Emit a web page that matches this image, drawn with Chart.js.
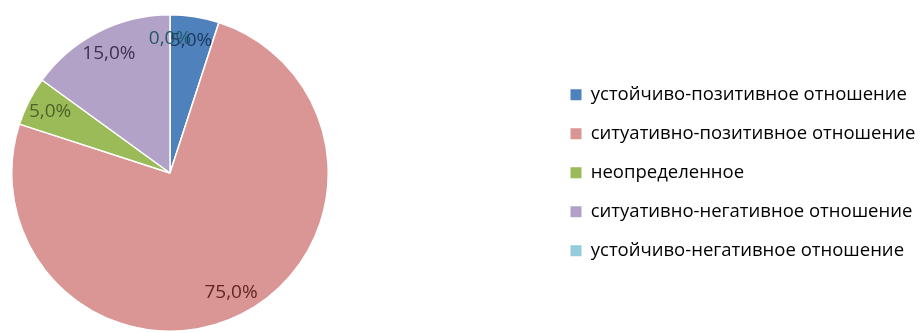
<!DOCTYPE html>
<html>
<head>
<meta charset="utf-8">
<script src="https://cdn.jsdelivr.net/npm/chart.js@4/dist/chart.umd.min.js"></script>
<style>
  html, body { margin: 0; padding: 0; background: #ffffff; }
  #wrap { width: 923px; height: 333px; position: relative; }
</style>
</head>
<body>
<div id="wrap"><canvas id="c" width="923" height="333"></canvas></div>
<script>
const categories = [
  'устойчиво-позитивное отношение',
  'ситуативно-позитивное отношение',
  'неопределенное',
  'ситуативно-негативное отношение',
  'устойчиво-негативное отношение'
];
const shares = [5.0, 75.0, 5.0, 15.0, 0.0];
const sliceColors = ['#4F81BD', '#D99694', '#9BBB59', '#B3A2C7', '#93CDDD'];
const labelColors = ['#1F3A60', '#632523', '#4F6228', '#3F3151', '#215968'];

const FONT = '"Open Sans", "Liberation Sans", sans-serif';

const placePlugin = {
  id: 'place',
  afterLayout(chart) {
    const ca = chart.chartArea;
    ca.left = 11; ca.top = 14; ca.right = 329; ca.bottom = 332;
    ca.width = ca.right - ca.left; ca.height = ca.bottom - ca.top;
    const lg = chart.legend;
    if (lg) {
      lg.left = 550; lg.right = 923; lg.top = 65; lg.bottom = 333;
      lg.width = lg.right - lg.left; lg.height = lg.bottom - lg.top;
    }
  }
};

const labelPlugin = {
  id: 'pieLabels',
  afterDatasetsDraw(chart) {
    const ctx = chart.ctx;
    const meta = chart.getDatasetMeta(0);
    ctx.save();
    ctx.font = '19px ' + FONT;
    ctx.textAlign = 'center';
    ctx.textBaseline = 'middle';
    meta.data.forEach((arc, i) => {
      const p = arc.getProps(['x', 'y', 'startAngle', 'endAngle', 'outerRadius'], true);
      const mid = (p.startAngle + p.endAngle) / 2;
      const r = p.outerRadius * 0.85;
      const x = p.x + Math.cos(mid) * r;
      const y = p.y + Math.sin(mid) * r;
      ctx.fillStyle = labelColors[i];
      ctx.fillText(shares[i].toFixed(1).replace('.', ',') + '%', x, y);
    });
    ctx.restore();
  }
};

new Chart(document.getElementById('c'), {
  type: 'pie',
  data: {
    labels: categories,
    datasets: [{
      data: shares,
      backgroundColor: sliceColors,
      borderColor: '#ffffff',
      borderWidth: (c) => (shares[c.dataIndex] > 0 ? 1.5 : 0)
    }]
  },
  options: {
    responsive: false,
    animation: false,
    layout: { padding: 0 },
    plugins: {
      tooltip: { enabled: false },
      legend: {
        display: true,
        position: 'right',
        align: 'start',
        labels: {
          boxWidth: 11,
          boxHeight: 11,
          padding: 20.5,
          color: '#2a2a2a',
          font: { family: FONT, size: 18.5 },
          generateLabels(chart) {
            return chart.data.labels.map((t, i) => ({
              text: t,
              fillStyle: sliceColors[i],
              strokeStyle: sliceColors[i],
              lineWidth: 0,
              hidden: false,
              index: i
            }));
          }
        }
      }
    }
  },
  plugins: [placePlugin, labelPlugin]
});
</script>
</body>
</html>
